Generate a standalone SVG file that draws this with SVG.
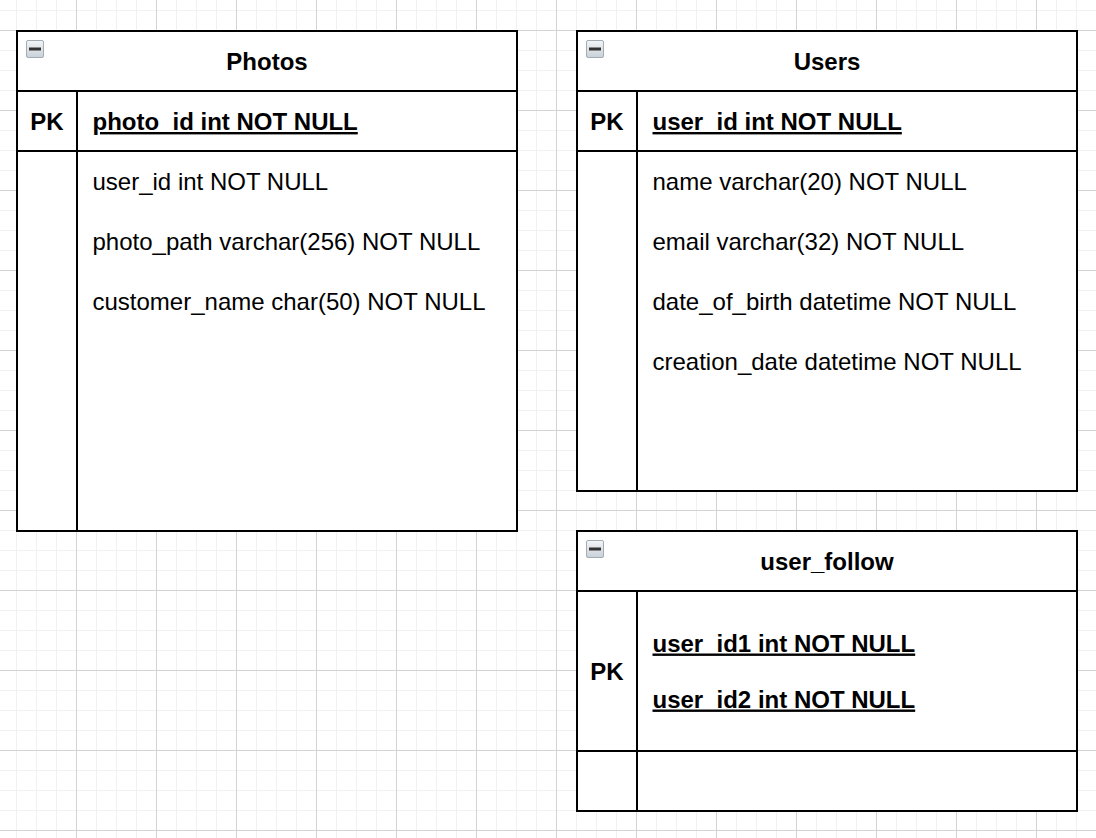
<svg xmlns="http://www.w3.org/2000/svg" width="1096" height="838" viewBox="0 0 1096 838">
<style>
.t{font-family:"Liberation Sans",Arial,Helvetica,sans-serif;font-size:24px;fill:#000}
.b{font-weight:bold}
.u{text-decoration:underline}
.c{text-anchor:middle}
.box{fill:#fff;stroke:#000;stroke-width:2}
.ln{stroke:#000;stroke-width:2;fill:none}
</style>
<defs>
<pattern id="minor" x="16" y="10" width="20" height="20" patternUnits="userSpaceOnUse">
<path d="M0 0H20M0 0V20" stroke="#f1f1f1" stroke-width="2" fill="none"/>
</pattern>
<pattern id="major" x="76" y="30" width="80" height="80" patternUnits="userSpaceOnUse">
<path d="M0 0.5H80M0.5 0V80" stroke="#d3d3d3" stroke-width="1" fill="none"/>
</pattern>
<linearGradient id="ig" x1="0" y1="0" x2="0" y2="1">
<stop offset="0" stop-color="#f4f6f8"/>
<stop offset="1" stop-color="#c8d0d8"/>
</linearGradient>
<g id="icon">
<rect x="0.5" y="0.5" width="17" height="17" rx="1.5" fill="url(#ig)" stroke="#a3acb5" stroke-width="1"/>
<rect x="3" y="7.5" width="12" height="3" fill="#333"/>
</g>
</defs>
<rect width="1096" height="838" fill="#fff"/>
<rect width="1096" height="838" fill="url(#minor)"/>
<rect width="1096" height="838" fill="url(#major)"/>

<g id="photos">
<rect class="box" x="17" y="31" width="500" height="500"/>
<path class="ln" d="M17 91H517M17 151H517M77 91V531"/>
<use href="#icon" x="26" y="40"/>
<text class="t b c" x="267" y="69.5">Photos</text>
<text class="t b c" x="47" y="130">PK</text>
<text class="t b u" x="92.5" y="130">photo_id int NOT NULL</text>
<text class="t" x="92.5" y="190">user_id int NOT NULL</text>
<text class="t" x="92.5" y="250">photo_path varchar(256) NOT NULL</text>
<text class="t" x="92.5" y="310">customer_name char(50) NOT NULL</text>
</g>

<g id="users">
<rect class="box" x="577" y="31" width="500" height="460"/>
<path class="ln" d="M577 91H1077M577 151H1077M637 91V491"/>
<use href="#icon" x="586" y="40"/>
<text class="t b c" x="827" y="69.5">Users</text>
<text class="t b c" x="607" y="130">PK</text>
<text class="t b u" x="652.5" y="130">user_id int NOT NULL</text>
<text class="t" x="652.5" y="190">name varchar(20) NOT NULL</text>
<text class="t" x="652.5" y="250">email varchar(32) NOT NULL</text>
<text class="t" x="652.5" y="310">date_of_birth datetime NOT NULL</text>
<text class="t" x="652.5" y="370">creation_date datetime NOT NULL</text>
</g>

<g id="user_follow">
<rect class="box" x="577" y="531" width="500" height="280"/>
<path class="ln" d="M577 591H1077M577 751H1077M637 591V811"/>
<use href="#icon" x="586" y="540"/>
<text class="t b c" x="827" y="569.5">user_follow</text>
<text class="t b c" x="607" y="679.5">PK</text>
<text class="t b u" x="652.5" y="651.5">user_id1 int NOT NULL</text>
<text class="t b u" x="652.5" y="707.5">user_id2 int NOT NULL</text>
</g>

<g id="connectors"></g>
</svg>
